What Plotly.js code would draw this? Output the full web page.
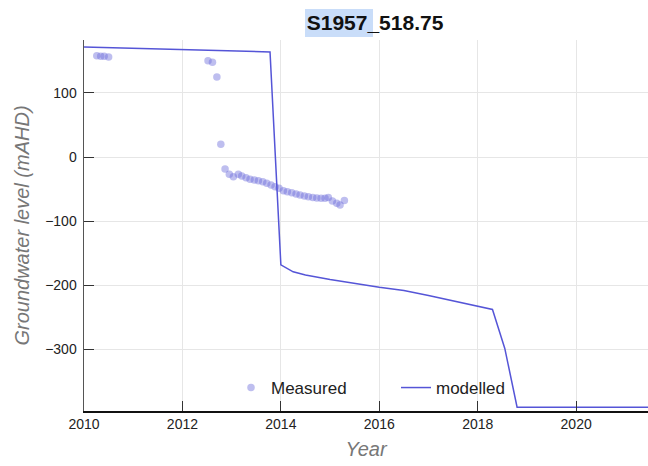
<!DOCTYPE html>
<html>
<head>
<meta charset="utf-8">
<script src="https://cdn.plot.ly/plotly-3.0.1.min.js"></script>
<style>html,body{margin:0;padding:0;background:#fff;}#chart{width:648px;height:466px;}</style>
</head>
<body>
<div id="chart"></div>
<script>
// Measured groundwater levels (decimal year, mAHD)
const measuredYear = [2010.26, 2010.34, 2010.41, 2010.50,
  2012.52, 2012.61, 2012.70, 2012.78,
  2012.866, 2012.953, 2013.035, 2013.136, 2013.205, 2013.293, 2013.374, 2013.461,
  2013.543, 2013.632, 2013.713, 2013.801, 2013.882, 2013.963, 2014.051, 2014.132,
  2014.222, 2014.309, 2014.390, 2014.478, 2014.559, 2014.648, 2014.730, 2014.817,
  2014.898, 2014.965, 2015.047, 2015.136, 2015.203, 2015.291];
const measuredLevel = [158, 157, 157, 156,
  150, 148, 125, 20,
  -18.7, -27, -30.7, -27, -29.6, -32.3, -34.8, -35.9,
  -37, -38.5, -41, -43.7, -46.3, -48.8, -52.6, -54,
  -55.7, -57.7, -59.3, -60.8, -61.9, -62.9, -64, -64.4,
  -64.4, -62.9, -68.6, -72.2, -74.9, -67.6];

// Modelled groundwater levels
const modelYear = [2010.0, 2013.78, 2014.0, 2014.25, 2014.5, 2015.0, 2016.0, 2016.5, 2017.0, 2018.0, 2018.3, 2018.55, 2018.8, 2021.5];
const modelLevel = [171.6, 163.8, -168, -179, -184, -191, -203, -208, -216, -233, -237.6, -298.4, -390, -390];

const xTicks = [2010, 2012, 2014, 2016, 2018, 2020];
const yTicks = [-300, -200, -100, 0, 100];

const traces = [
  {
    x: measuredYear, y: measuredLevel, type: 'scatter', mode: 'markers', name: 'Measured',
    marker: {size: 7.5, color: 'rgba(110,110,220,0.45)', line: {width: 0}}
  },
  {
    x: modelYear, y: modelLevel, type: 'scatter', mode: 'lines', name: 'modelled',
    line: {color: 'rgb(85,85,215)', width: 1.5}
  }
];

const layout = {
  width: 648, height: 466,
  margin: {l: 84, r: 0, t: 40, b: 55},
  paper_bgcolor: '#fff', plot_bgcolor: '#fff',
  font: {family: 'Liberation Sans, Arial, sans-serif', size: 14, color: '#333'},
  title: {
    text: '<b>S1957_518.75</b>', font: {size: 21, color: '#111'},
    xref: 'paper', x: 0.516, xanchor: 'center',
    yref: 'container', y: 1 - 23/466, yanchor: 'middle'
  },
  showlegend: true,
  legend: {
    orientation: 'h', x: (231-84)/564, xanchor: 'left', y: (411-388)/371, yanchor: 'middle',
    bgcolor: 'rgba(0,0,0,0)', font: {size: 17, color: '#222'},
    entrywidth: 120, entrywidthmode: 'pixels'
  },
  xaxis: {
    range: [2010, 2021.46], tickvals: xTicks, ticktext: xTicks.map(String),
    ticks: 'inside', ticklen: 10, tickcolor: '#333', tickwidth: 1,
    showline: true, linecolor: '#111', linewidth: 1.5,
    showgrid: true, gridcolor: '#e6e6e6', zeroline: false,
    tickfont: {size: 14, color: '#222'},
    title: {text: '<i>Year</i>', font: {size: 20, color: '#777'}, standoff: 10}
  },
  yaxis: {
    range: [-396, 182.5], tickvals: yTicks,
    ticks: 'inside', ticklen: 10, tickcolor: '#333', tickwidth: 1,
    showline: true, linecolor: '#555', linewidth: 1.5,
    showgrid: true, gridcolor: '#e6e6e6', zeroline: false,
    tickfont: {size: 14, color: '#222'}, ticklabelstandoff: 3,
    title: {text: '<i>Groundwater level (mAHD)</i>', font: {size: 20, color: '#777'}, standoff: 10}
  },
  shapes: [
    {type: 'rect', xref: 'paper', yref: 'paper', layer: 'below',
     x0: (305-84)/564, x1: (373-84)/564, y0: (411-37)/371, y1: (411-9)/371,
     fillcolor: '#c9ddf9', line: {width: 0}}
  ]
};

Plotly.newPlot('chart', traces, layout, {displayModeBar: false, staticPlot: true});
</script>
</body>
</html>
